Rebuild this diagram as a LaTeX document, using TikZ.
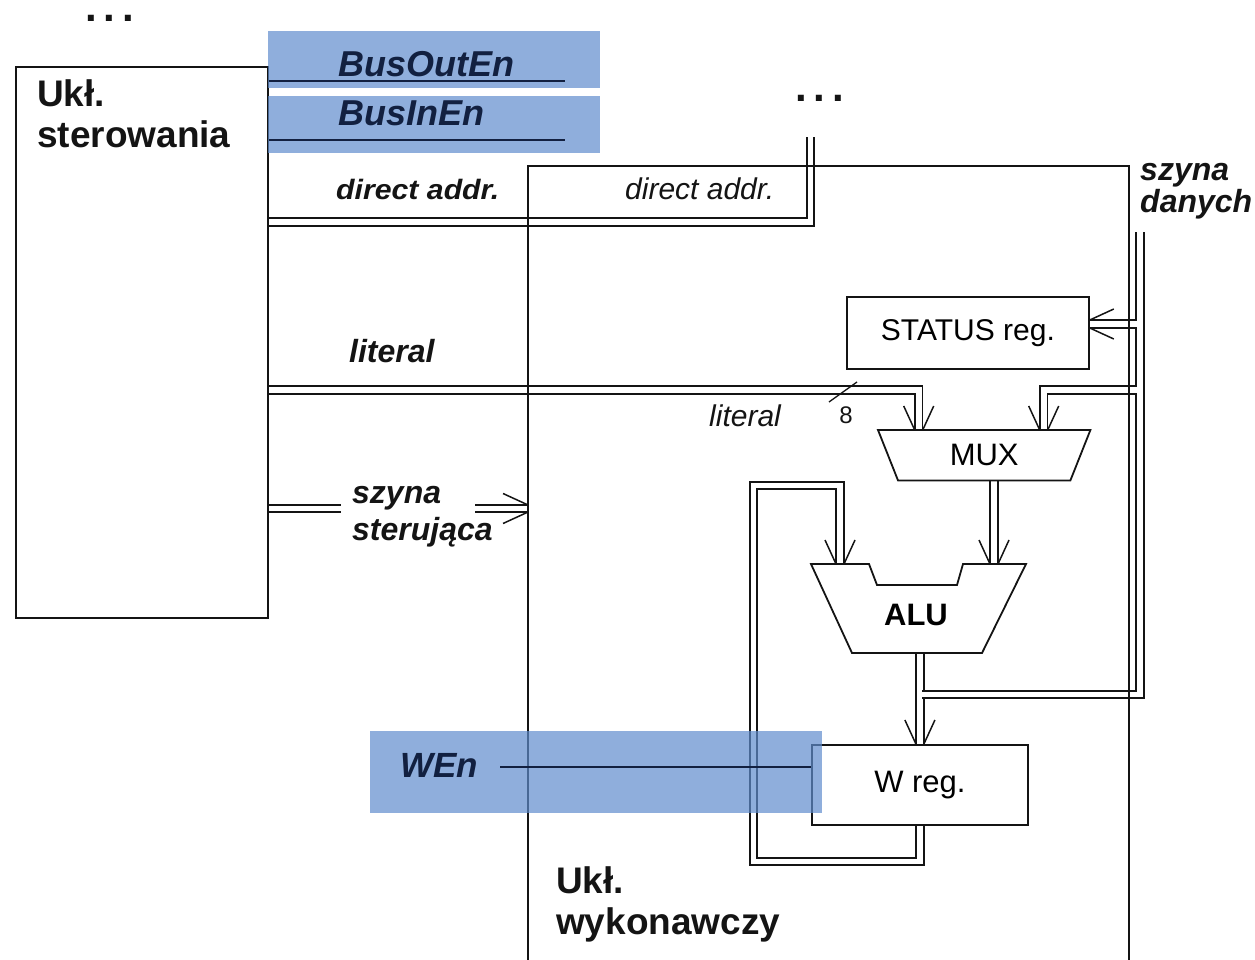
\documentclass[tikz,border=0pt]{standalone}
\usepackage{fontspec}
\setmainfont{Liberation Sans}
\usetikzlibrary{calc}
\pgfdeclarelayer{bg}
\pgfdeclarelayer{fg}
\pgfsetlayers{bg,main,fg}
\definecolor{ink}{RGB}{20,20,20}
\definecolor{meshblue}{RGB}{95,140,205}
\definecolor{navy}{RGB}{18,32,64}
\newcommand{\fsz}[1]{\fontsize{#1}{#1}\selectfont}
\begin{document}
\begin{tikzpicture}[x=1pt,y=-1pt,
  dbl/.style={draw=ink, line width=1.8pt, double=white, double distance=5.7pt, line join=miter},
  box/.style={draw=ink, line width=1.8pt, inner sep=0pt},
  hidden/.style={inner sep=0pt},
  bilbl/.style={font=\fsz{32}\bfseries\itshape, inner sep=0pt, anchor=base west, text=ink},
  bluelbl/.style={font=\fsz{36}\bfseries\itshape, inner sep=0pt, anchor=base west, text=navy},
  titlelbl/.style={font=\fsz{37}\bfseries, inner sep=0pt, anchor=base west, text=ink},
  dots/.style={font=\fsz{42}\bfseries, inner sep=0pt, anchor=base west, text=ink},
  sig/.style={draw=navy, line width=2pt},
  mesh/.style={fill=meshblue, fill opacity=0.7},
  vbarb/.pic={\draw[ink, line width=1.5pt] (-24,-15) -- (0,-4) (-24,15) -- (0,4);}
]
\useasboundingbox (0,0) rectangle (1255,960);

% ---------- boxes ----------
\node[box, anchor=north west, minimum width=252pt, minimum height=551pt] (ctrl) at (15,66) {};
\node[box, anchor=north west, minimum width=601pt, minimum height=830pt] (exec) at (527,165) {};
\node[box, anchor=north west, minimum width=242pt, minimum height=72pt, font=\fsz{30}] (status) at (846,296) {STATUS reg.};
\node[box, anchor=north west, minimum width=216pt, minimum height=80pt, font=\fsz{31}] (wreg) at (811,744) {W reg.};
\node[hidden, anchor=north west, minimum width=212pt, minimum height=50pt, font=\fsz{31}] (mux) at (878,430) {MUX};
\node[hidden, anchor=north west, minimum width=215pt, minimum height=89pt] (alu) at (811,564) {};
\node[font=\fsz{31}\bfseries, inner sep=0pt] (alulbl) at (916,615) {ALU};

\draw[box] (mux.north west) -- (mux.north east) -- ([xshift=-20pt]mux.south east) -- ([xshift=20pt]mux.south west) -- cycle;
\draw[box] (811,564) -- (869,564) -- (877,585) -- (957,585) -- (963,564) -- (1026,564) -- (982,653) -- (852,653) -- cycle;

% ---------- coordinates ----------
\coordinate (daTop) at (810.5,137);
\coordinate (daY) at (0,222);
\coordinate (litY) at (0,390);
\coordinate (busTop) at (1140,232);
\coordinate (busBot) at (1140,694.5);
\coordinate (busEnd) at (921.8,694.5);
\coordinate (stJ) at (1137.2,324);
\coordinate (mxJ) at (1137.2,390);
\coordinate (maX) at (994,0);
\coordinate (fbBL) at (753.5,861.5);
\coordinate (fbTL) at (753.5,485.5);
\coordinate (fbX) at (840,0);
\coordinate (ssY) at (0,508.5);
\coordinate (ssL) at (341,508.5);
\coordinate (ssR) at (475,508.5);
\coordinate (boY) at (0,81);
\coordinate (boEnd) at (565,81);
\coordinate (biY) at (0,140);
\coordinate (biEnd) at (565,140);
\coordinate (wenS) at (500,767);

% ---------- connectors ----------
\begin{pgfonlayer}{bg}
\draw[dbl] (ctrl.east |- daY) -| (daTop);
\draw[dbl] (ctrl.east |- litY) -| ([xshift=-65.5pt]mux.north);
\draw[dbl] (mux.south -| maX) -- (alu.north -| maX);
\draw[dbl] (alu.south -| wreg.north) -- (wreg.north);
\draw[dbl] (wreg.south) |- (fbBL) -- (fbTL) -| (alu.north -| fbX);
\draw[dbl] (busTop) -- (busBot) -- (busEnd);
\draw[dbl] (stJ) -- (stJ -| status.east);
\draw[dbl] (mxJ) -| ([xshift=59.5pt]mux.north);
\draw[dbl] (ctrl.east |- ssY) -- (ssL);
\draw[dbl] (ssR) -- (exec.west |- ssY);
\end{pgfonlayer}

% ---------- arrow barbs ----------
\pic[rotate=-90] at ([xshift=-65.5pt]mux.north) {vbarb};
\pic[rotate=-90] at ([xshift=59.5pt]mux.north) {vbarb};
\pic[rotate=-90] at (alu.north -| maX) {vbarb};
\pic[rotate=-90] at (alu.north -| fbX) {vbarb};
\pic[rotate=-90] at (wreg.north) {vbarb};
\pic[rotate=180] at (stJ -| status.east) {vbarb};
\pic at (exec.west |- ssY) {vbarb};

\draw[ink, line width=1.3pt] (829,402) -- (857,382);

% ---------- labels ----------
\node[titlelbl] (ctrlA) at (37,107) {Ukł.};
\node[titlelbl] (ctrlB) at (37,148) {sterowania};
\node[titlelbl] (execA) at (556,893) {Ukł.};
\node[titlelbl] (execB) at (556,934) {wykonawczy};
\node[dots] (dotsA) at (85,22) {.\hspace{7pt}.\hspace{7pt}.};
\node[dots] (dotsB) at (795,102) {.\hspace{7pt}.\hspace{7pt}.};
\node[bilbl, font=\fsz{28}\bfseries\itshape, xscale=1.08] (daL) at (336,200) {direct addr.};
\node[inner sep=0pt, anchor=base west, font=\fsz{30}\itshape, text=ink] (daR) at (625,200) {direct addr.};
\node[bilbl] (litL) at (349,362) {literal};
\node[inner sep=0pt, anchor=base west, font=\fsz{30}\itshape, text=ink] (litR) at (709,426) {literal};
\node[inner sep=0pt, anchor=base, font=\fsz{24}, text=ink] (eight) at (846,423) {8};
\node[bilbl] (ssA) at (352,503) {szyna};
\node[bilbl] (ssB) at (352,540) {sterująca};
\node[bilbl] (sdA) at (1140,181) {szyna};
\node[bilbl] (sdB) at (1140,212) {danych};

% ---------- blue control signals ----------
\begin{pgfonlayer}{fg}
\fill[mesh] (268,31) rectangle (600,88);
\fill[mesh] (268,96) rectangle (600,153);
\fill[mesh] (370,731) rectangle (822,813);
\draw[sig] (ctrl.east |- boY) -- (boEnd);
\draw[sig] (ctrl.east |- biY) -- (biEnd);
\draw[sig] (wenS) -- (wenS -| wreg.west);
\node[bluelbl] (boLbl) at (338,77) {BusOutEn};
\node[bluelbl] (biLbl) at (338,126) {BusInEn};
\node[bluelbl, font=\fsz{35}\bfseries\itshape] (wenLbl) at (400,777) {WEn};
\end{pgfonlayer}
\end{tikzpicture}
\end{document}
